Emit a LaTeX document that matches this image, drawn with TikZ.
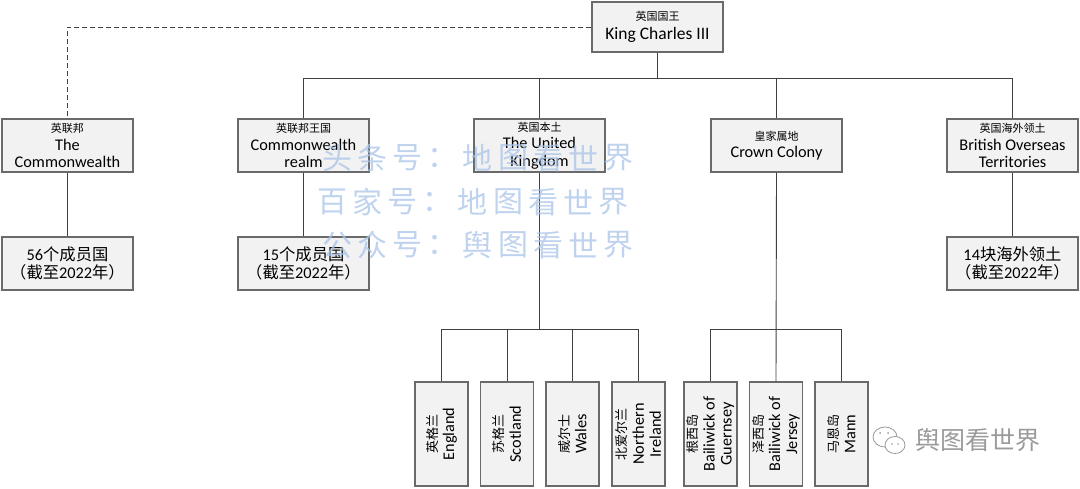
\documentclass[tikz,border=0pt]{standalone}
\usepackage{fontspec}
\setmainfont{Carlito}
\newfontfamily\cjk{Noto Sans CJK SC}
\definecolor{boxfill}{HTML}{F2F2F2}
\definecolor{boxline}{HTML}{6A6A6A}
\definecolor{conn}{HTML}{404040}
\definecolor{wm}{RGB}{170,196,232}
\definecolor{wmgray}{HTML}{9A9A9A}
\newcommand{\cn}[1]{{\cjk\fontsize{11}{13}\selectfont #1}}
\newcommand{\cnb}[1]{{\cjk\fontsize{13}{17}\selectfont #1}}
\begin{document}
\begin{tikzpicture}[x=1pt,y=-1pt,
  box/.style={draw=boxline, fill=boxfill, line width=1.2pt, rectangle, inner sep=0pt},
  rowbox/.style={box, minimum width=131pt, minimum height=53pt, align=center,
     font=\fontsize{16.3}{17.5}\selectfont},
  kingbox/.style={box, minimum width=131pt, minimum height=50pt, align=center,
     font=\fontsize{17.5}{19}\selectfont},
  vbox/.style={box, minimum width=53pt, minimum height=104pt},
  vlabel/.style={rotate=90, align=center, inner sep=0pt, font=\fontsize{16.3}{17}\selectfont},
  link/.style={draw=conn, line width=0.9pt},
  wmtext/.style={text=wm, opacity=0.75, inner sep=0pt, font=\cjk\fontsize{30}{30}\selectfont},
]
\useasboundingbox (0,0) rectangle (1080,488);

% top
\node[kingbox] (king) at (657.5,27) {\cn{英国国王}\\King Charles III};

% row 1
\node[rowbox] (cw) at (67.5,145.5) {\cn{英联邦}\\The\\Commonwealth};
\node[rowbox] (realm) at (303.5,145.5) {\cn{英联邦王国}\\Commonwealth\\realm};
\node[rowbox] (uk) at (539.5,145.5) {\cn{英国本土}\\The United\\Kingdom};
\node[rowbox] (crown) at (776.5,145.5) {\cn{皇家属地}\\Crown Colony};
\node[rowbox] (bot) at (1012.5,145.5) {\cn{英国海外领土}\\British Overseas\\Territories};

% row 2
\node[rowbox] (cwn) at (67.5,263.5) {56{\cjk 个成员国}\\{\cjk （截至}2022{\cjk 年）}};
\node[rowbox] (realmn) at (303.5,263.5) {15{\cjk 个成员国}\\{\cjk （截至}2022{\cjk 年）}};
\node[rowbox] (botn) at (1012.5,263.5) {14{\cjk 块海外领土}\\{\cjk （截至}2022{\cjk 年）}};

% bottom boxes
\node[vbox] (eng) at (441.5,434) {};
\node[vbox] (sco) at (507,434) {};
\node[vbox] (wal) at (572.5,434) {};
\node[vbox] (ni) at (638.5,434) {};
\node[vbox] (gue) at (710.5,434) {};
\node[vbox] (jer) at (776,434) {};
\node[vbox] (mann) at (841.5,434) {};
\node[vlabel] (engt) at (eng) {\cnb{英格兰}\\England};
\node[vlabel] (scot) at (sco) {\cnb{苏格兰}\\Scotland};
\node[vlabel] (walt) at (wal) {\cnb{威尔士}\\Wales};
\node[vlabel] (nit) at (ni) {\cnb{北爱尔兰}\\Northern\\Ireland};
\node[vlabel] (guet) at (gue) {\cnb{根西岛}\\Bailiwick of\\Guernsey};
\node[vlabel] (jert) at (jer) {\cnb{泽西岛}\\Bailiwick of\\Jersey};
\node[vlabel] (mannt) at (mann) {\cnb{马恩岛}\\Mann};

% connectors
\coordinate (bar) at (657.5,78);
\draw[link] (king.south) -- (bar);
\draw[link] (bar) -| (realm.north);
\draw[link] (bar) -| (uk.north);
\draw[link] (bar) -| (crown.north);
\draw[link] (bar) -| (bot.north);
\draw[link, dashed, dash pattern=on 5pt off 3pt] (king.west) -| (cw.north);
\draw[link] (cw.south) -- (cwn.north);
\draw[link] (realm.south) -- (realmn.north);
\draw[link] (bot.south) -- (botn.north);

\coordinate (ukbar) at (539.5,329);
\draw[link] (uk.south) -- (ukbar);
\draw[link] (ukbar) -| (eng.north);
\draw[link] (ukbar) -| (sco.north);
\draw[link] (ukbar) -| (wal.north);
\draw[link] (ukbar) -| (ni.north);
\coordinate (crbar) at (776.5,329);
\draw[link] (crown.south) -- (jer.north);
\draw[link] (crbar) -| (gue.north);
\draw[link] (crbar) -| (mann.north);

% watermarks
\foreach \c [count=\i from 0] in {头,条,号,：,地,图,看,世,界}
  \node[wmtext] (wa\i) at (337+35.2*\i,158) {\c};
\foreach \c [count=\i from 0] in {百,家,号,：,地,图,看,世,界}
  \node[wmtext] (wb\i) at (332+35.2*\i,202) {\c};
\foreach \c [count=\i from 0] in {公,众,号,：,舆,图,看,世,界}
  \node[wmtext] (wc\i) at (337+35.2*\i,245) {\c};

% bottom-right logo
\draw[wmgray, line width=0.8pt, fill=white] (885,437) ellipse (12pt and 10pt);
\draw[wmgray, line width=0.8pt, fill=white] (895,445) ellipse (10pt and 8.5pt);
\fill[wmgray] (880,433) circle (1pt) (888,433) circle (1pt) (892,444) circle (0.9pt) (898,444) circle (0.9pt);
\node[text=wmgray, inner sep=0pt, font=\cjk\fontsize{25}{25}\selectfont] (logo) at (978,440) {舆图看世界};
\end{tikzpicture}
\end{document}
